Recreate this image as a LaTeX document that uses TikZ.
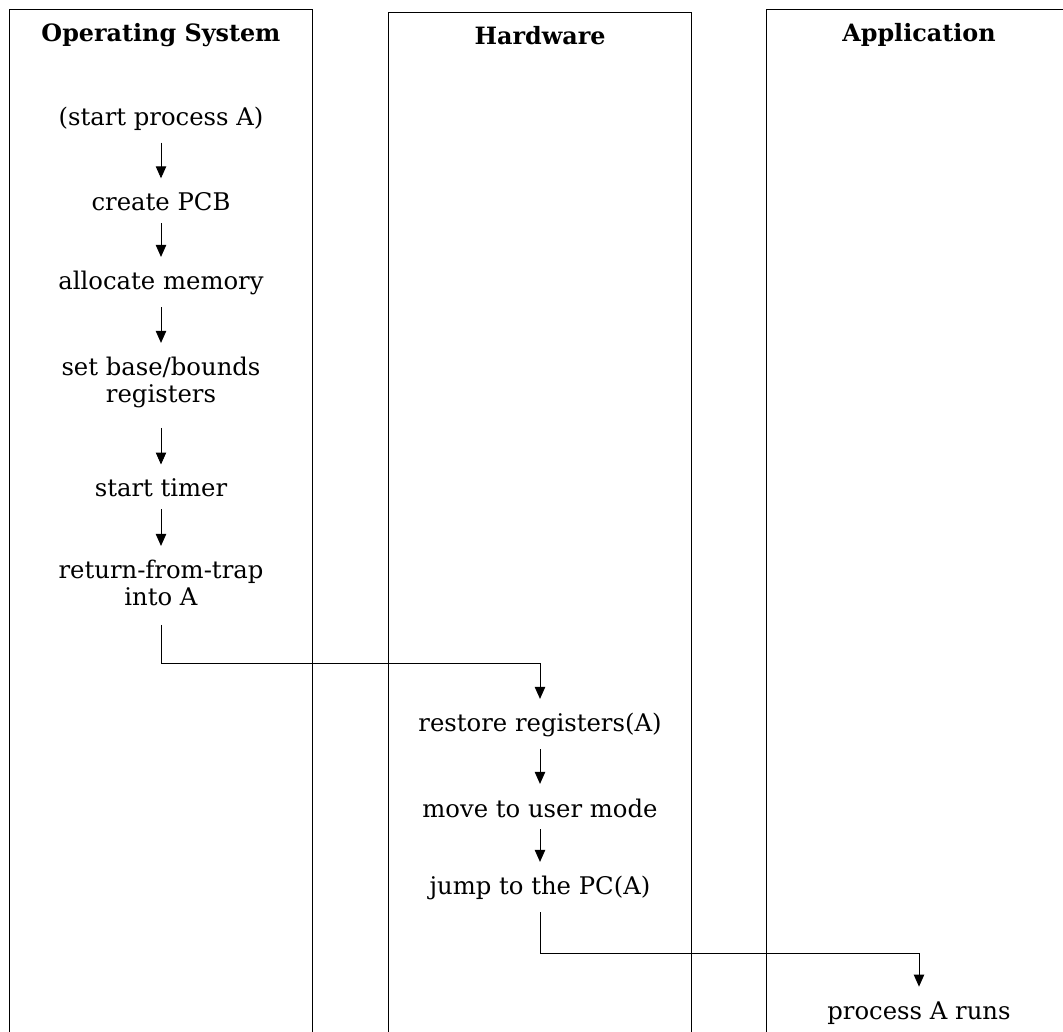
\documentclass[tikz,border=0pt]{standalone}
\usepackage{fontspec}
\setmainfont{DejaVu Serif}
\usepackage{tikz}
\usetikzlibrary{arrows.meta}

\tikzset{
  lane/.style={draw, line width=0.4pt},
  head/.style={font=\fontsize{10.6}{13}\selectfont\bfseries, anchor=base, inner sep=0pt},
  act/.style={font=\fontsize{10.8}{12}\selectfont, align=center, anchor=base, inner sep=0pt},
  flow/.style={-{Triangle[length=5.3pt,width=4.6pt]}, shorten <=5pt, shorten >=6.3pt},
}

\begin{document}
\begin{tikzpicture}[x=0.4444pt, y=-0.4444pt]
  \useasboundingbox (0,0) rectangle (1063,1032);
  \clip (0,0) rectangle (1063,1032);

  % lanes
  \draw[lane] (9,9.3) rectangle (312.5,1050);
  \draw[lane] (388,12.7) rectangle (691.7,1050);
  \draw[lane] (766.5,9.3) rectangle (1070,1050);

  \coordinate (os) at (161,41.5);
  \coordinate (hw) at (540,45);
  \coordinate (app) at (919,41.5);

  \node[head] (osh) at (os) {Operating System};
  \node[head] (hwh) at (hw) {Hardware};
  \node[head] (apph) at (app) {Application};

  % operating system
  \node[act] (start) at (161,126) {(start process A)};
  \node[act] (pcb) at (161,211) {create PCB};
  \node[act] (mem) at (161,290) {allocate memory};
  \node[act] (bounds) at (161,403) {set base/bounds\\registers};
  \node[act] (timer) at (161,497) {start timer};
  \node[act] (rft) at (161,606) {return-from-trap\\into A};

  % hardware
  \node[act] (restore) at (540,732) {restore registers(A)};
  \node[act] (umode) at (540,817) {move to user mode};
  \node[act] (jump) at (540,895) {jump to the PC(A)};

  % application
  \node[act] (runs) at (919,1019) {process A runs};

  \foreach \a/\b in {start/pcb, pcb/mem, mem/bounds, timer/rft, restore/umode, umode/jump}
    \draw[flow] (\a) -- (\b);
  \draw[flow, shorten <=8.5pt] (bounds) -- (timer);

  \coordinate (hopA) at (161,663);
  \coordinate (hopB) at (540,953);
  \draw[flow, shorten <=8pt] (rft) -- (hopA) -| (restore);
  \draw[flow] (jump) -- (hopB) -| (runs);
\end{tikzpicture}
\end{document}
